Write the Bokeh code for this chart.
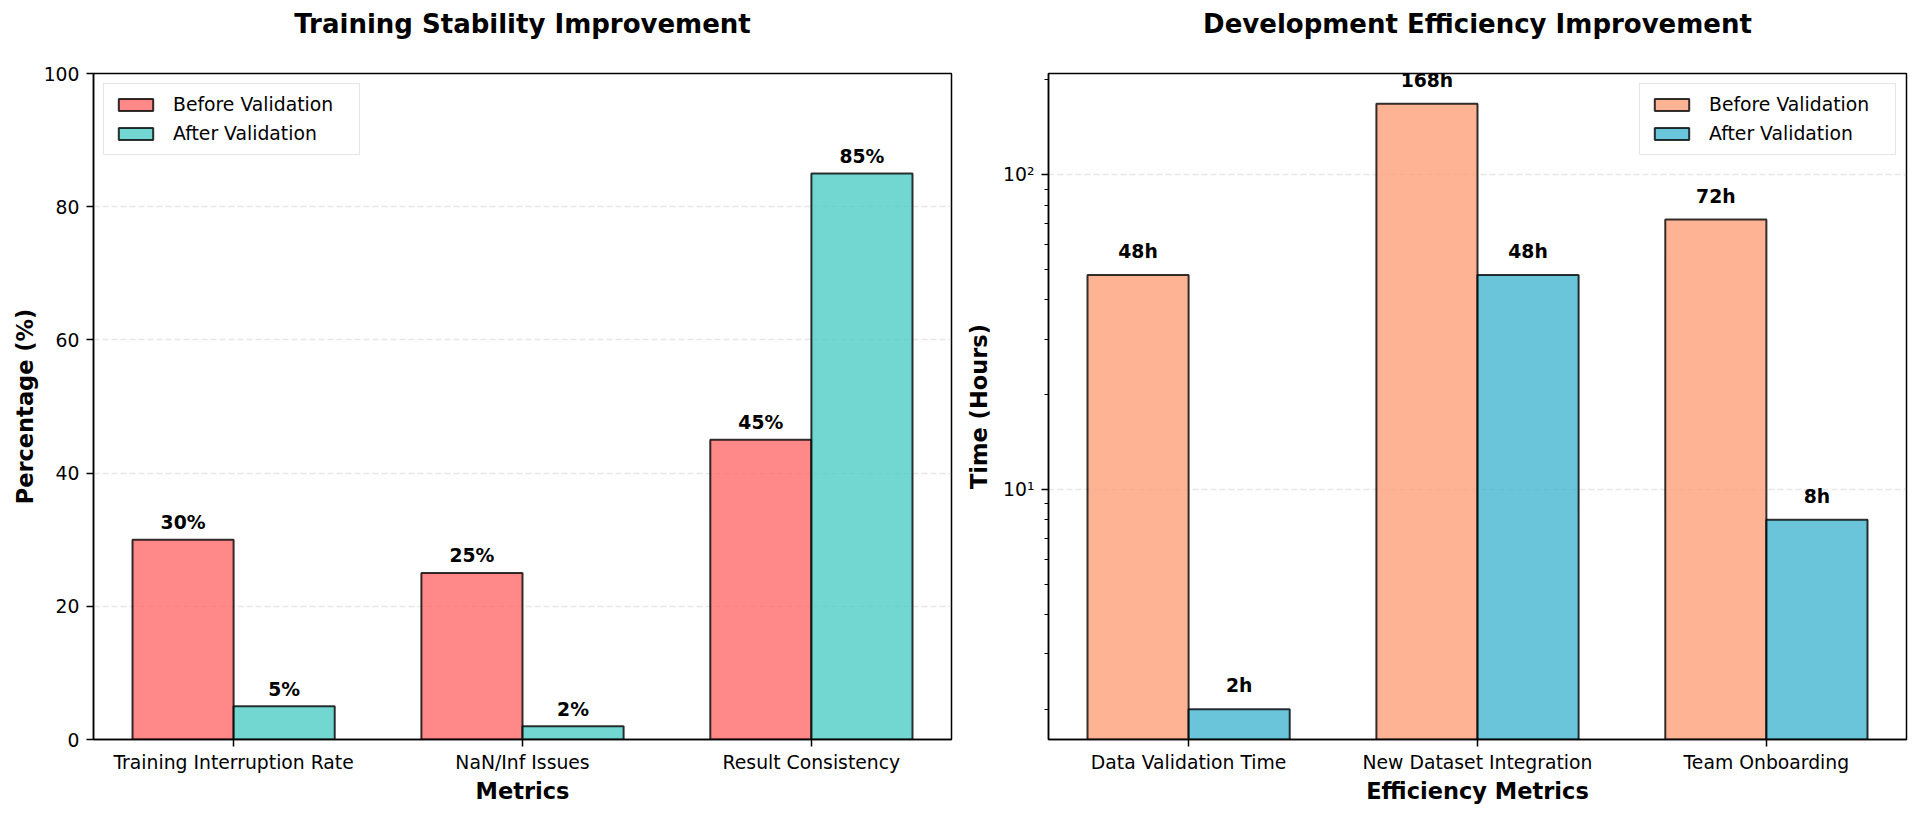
import math

from bokeh.core.properties import value
from bokeh.embed import file_html
from bokeh.layouts import row
from bokeh.models import ColumnDataSource, FixedTicker, Legend, LegendItem, Range1d, Title
from bokeh.plotting import figure
from bokeh.resources import INLINE

# ---- data -------------------------------------------------------------
stability_metrics = ["Training Interruption Rate", "NaN/Inf Issues", "Result Consistency"]
stability_before = [30, 25, 45]
stability_after = [5, 2, 85]
stability_y_ticks = [0, 20, 40, 60, 80, 100]

efficiency_metrics = ["Data Validation Time", "New Dataset Integration", "Team Onboarding"]
efficiency_before = [48, 168, 72]
efficiency_after = [2, 48, 8]
efficiency_y_ticks = [10, 100]
efficiency_y_tick_labels = ["10\u00b9", "10\u00b2"]
efficiency_y_minor = [2, 3, 4, 5, 6, 7, 8, 9, 20, 30, 40, 50, 60, 70, 80, 90, 200]

series_names = ["Before Validation", "After Validation"]
stability_colors = ["#FF6B6B", "#4ECDC4"]
efficiency_colors = ["#FFA07A", "#45B7D1"]

BAR_W = 0.35
FONT = "DejaVu Sans"
TICK_PX = "18.8px"
LABEL_PX = "22.5px"
TITLE_PX = "26px"


def x_range_for(n):
    lo, hi = -BAR_W, (n - 1) + BAR_W
    pad = 0.05 * (hi - lo)
    return Range1d(lo - pad, hi + pad)


def style_axes(p, categories, xlabel, ylabel, ylabel_standoff):
    p.title.text_font = FONT
    p.title.text_font_size = TITLE_PX
    p.title.text_font_style = "bold"
    p.title.align = "center"
    p.title.vertical_align = "top"
    p.title.standoff = 16
    p.title.text_color = "black"
    # blank band between the title and the plot frame
    p.add_layout(Title(text=" ", text_font_size="1px", standoff=22), "above")

    p.outline_line_color = "black"
    p.outline_line_width = 1.5
    p.outline_line_alpha = 1.0

    for ax in (p.xaxis[0], p.yaxis[0]):
        ax.axis_line_color = "black"
        ax.axis_line_width = 1.5
        ax.major_tick_line_color = "black"
        ax.major_tick_line_width = 1.5
        ax.major_tick_out = 7
        ax.major_tick_in = 0
        ax.major_label_standoff = 7
        ax.major_label_text_font = FONT
        ax.major_label_text_font_size = TICK_PX
        ax.major_label_text_color = "black"
        ax.axis_label_text_font = FONT
        ax.axis_label_text_font_size = LABEL_PX
        ax.axis_label_text_font_style = "bold"
        ax.axis_label_text_color = "black"

    p.xaxis[0].major_label_standoff = 5
    p.xaxis[0].axis_label_standoff = 2
    p.yaxis[0].axis_label_standoff = ylabel_standoff

    p.xaxis[0].ticker = FixedTicker(ticks=list(range(len(categories))))
    p.xaxis[0].major_label_overrides = {i: c for i, c in enumerate(categories)}
    p.xaxis[0].minor_tick_line_color = None
    p.xaxis[0].axis_label = xlabel
    p.yaxis[0].axis_label = ylabel

    p.xgrid.grid_line_color = None
    p.ygrid.grid_line_color = "#b0b0b0"
    p.ygrid.grid_line_alpha = 0.3
    p.ygrid.grid_line_dash = "6 3"
    p.ygrid.grid_line_width = 1.5


def add_bars(p, before, after, colors, bottom, label_y, suffix):
    n = len(before)
    idx = list(range(n))
    renderers = []
    for vals, color, shift in ((before, colors[0], -BAR_W / 2), (after, colors[1], BAR_W / 2)):
        src = ColumnDataSource(dict(
            x=[i + shift for i in idx],
            top=vals,
            ly=[label_y(v) for v in vals],
            txt=[f"{v}{suffix}" for v in vals],
        ))
        r = p.vbar(x="x", top="top", bottom=bottom, width=BAR_W, source=src,
                   fill_color=color, fill_alpha=0.8,
                   line_color="black", line_alpha=0.8, line_width=2)
        p.text(x="x", y="ly", text="txt", source=src,
               text_font=value(FONT), text_font_style="bold",
               text_font_size=TICK_PX, text_color="black",
               text_align="center", text_baseline="bottom")
        renderers.append(r)
    return renderers


def add_legend(p, renderers, location):
    legend = Legend(
        items=[LegendItem(label=name, renderers=[r]) for name, r in zip(series_names, renderers)],
        location=location,
        label_text_font=FONT,
        label_text_font_size=TICK_PX,
        label_text_color="black",
        glyph_width=43,
        glyph_height=15,
        label_height=20,
        label_width=176,
        label_standoff=16,
        spacing=8,
        padding=10,
        margin=10,
        border_line_color="#cccccc",
        border_line_width=1.5,
        background_fill_color="white",
        background_fill_alpha=0.8,
    )
    p.add_layout(legend)


# ---- left: training stability (linear percent axis) -------------------
p1 = figure(width=961, height=815, output_backend="svg", toolbar_location=None,
            x_range=x_range_for(len(stability_metrics)), y_range=Range1d(0, 100),
            title="Training Stability Improvement",
            min_border_left=93, min_border_right=10, min_border_top=73, min_border_bottom=76,
            background_fill_color="white", border_fill_color="white")
style_axes(p1, stability_metrics, "Metrics", "Percentage (%)", 3)
p1.yaxis[0].ticker = FixedTicker(ticks=stability_y_ticks)
p1.yaxis[0].minor_tick_line_color = None
r1 = add_bars(p1, stability_before, stability_after, stability_colors, 0,
              lambda v: v + 1, "%")
add_legend(p1, r1, "top_left")

# ---- right: development efficiency (log hours axis) -------------------
all_hours = efficiency_before + efficiency_after
lo, hi = math.log10(min(all_hours)), math.log10(max(all_hours))
pad = 0.05 * (hi - lo)
p2 = figure(width=959, height=815, output_backend="svg", toolbar_location=None,
            x_range=x_range_for(len(efficiency_metrics)),
            y_range=Range1d(10 ** (lo - pad), 10 ** (hi + pad)), y_axis_type="log",
            title="Development Efficiency Improvement",
            min_border_left=87, min_border_right=14, min_border_top=73, min_border_bottom=76,
            background_fill_color="white", border_fill_color="white")
style_axes(p2, efficiency_metrics, "Efficiency Metrics", "Time (Hours)", 8)
p2.yaxis[0].ticker = FixedTicker(ticks=efficiency_y_ticks, minor_ticks=efficiency_y_minor)
p2.yaxis[0].major_label_overrides = dict(zip(efficiency_y_ticks, efficiency_y_tick_labels))
p2.yaxis[0].minor_tick_line_color = "black"
p2.yaxis[0].minor_tick_line_width = 1.2
p2.yaxis[0].minor_tick_out = 4
p2.yaxis[0].minor_tick_in = 0
r2 = add_bars(p2, efficiency_before, efficiency_after, efficiency_colors, 1,
              lambda v: v * 1.1, "h")
add_legend(p2, r2, "top_right")

layout = row(p1, p2)
open("out.html", "w").write(file_html(layout, INLINE))
